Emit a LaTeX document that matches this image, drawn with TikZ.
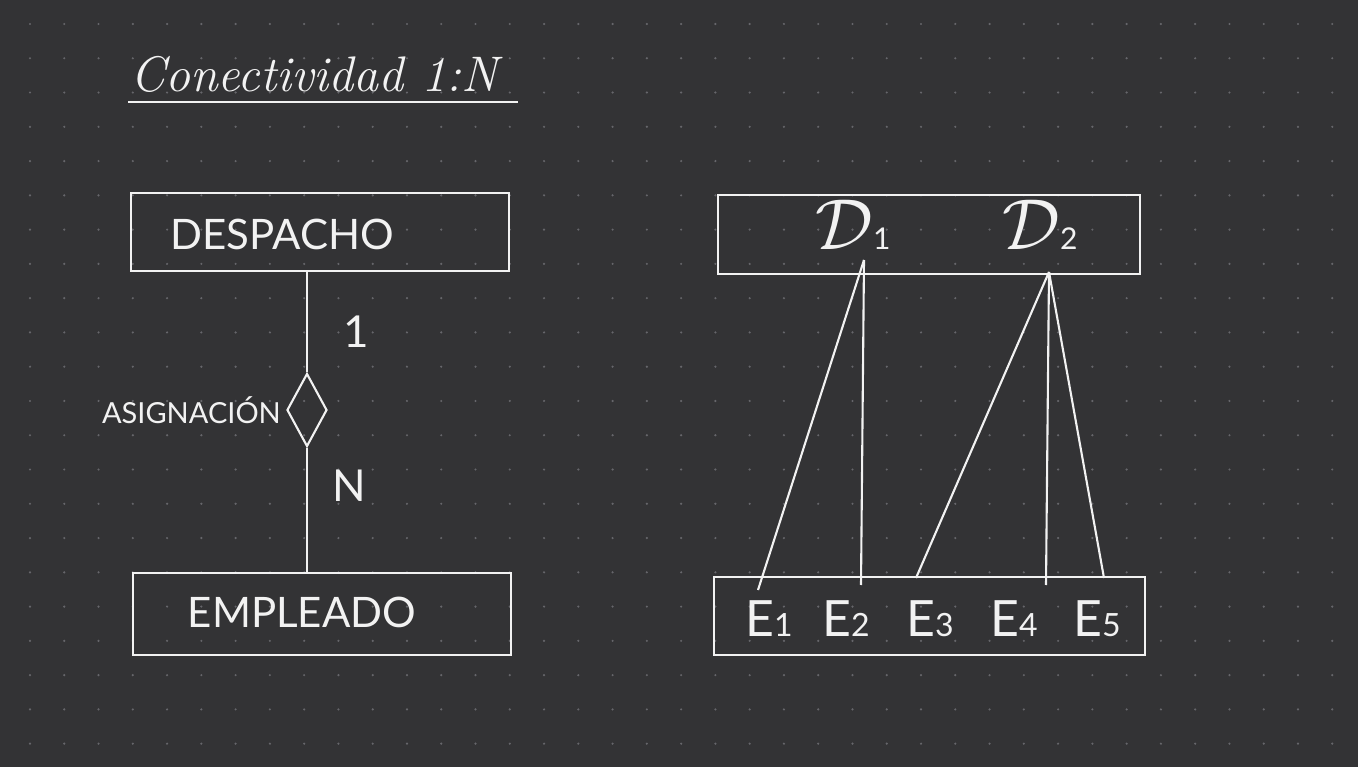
\documentclass[tikz,border=0pt]{standalone}
\usepackage{fontspec}
\setsansfont{Lato}
\usetikzlibrary{shapes.geometric}
\definecolor{bg}{HTML}{333335}
\definecolor{dotc}{HTML}{66666B}
\definecolor{ink}{HTML}{F2F2F2}
\newcommand{\bigD}{\scalebox{2.9}{$\mathcal{D}$}}
\begin{document}
\begin{tikzpicture}[x=1pt,y=-1pt,
  entbox/.style={draw=ink, line width=2.1pt, inner sep=0pt},
  lbl/.style={text=ink, inner sep=0pt, font=\sffamily\fontsize{42}{42}\selectfont},
  elbl/.style={text=ink, inner sep=0pt, anchor=base, font=\sffamily\fontsize{50}{50}\selectfont},
  small/.style={text=ink, inner sep=0pt, font=\sffamily\fontsize{29}{29}\selectfont},
  conn/.style={draw=ink, line width=2.1pt},
  ttl/.style={text=ink, inner sep=0pt, font=\itshape\fontsize{50}{50}\selectfont}]
\fill[bg] (0,0) rectangle (1358,767);
\useasboundingbox (0,0) rectangle (1358,767);
\foreach \i in {0,...,38}
  \foreach \j in {0,...,21}
    \fill[dotc] ({30+34.27*\i},{24+34.27*\j}) circle (1.2);
% title
\node[ttl, anchor=base west] (title) at (130,92) {Conectividad 1:N};
\coordinate (ul1) at (128,102);
\coordinate (ul2) at (518,102);
\draw[conn, line width=1.6pt] (ul1) -- (ul2);
% left diagram
\node[entbox, minimum width=378pt, minimum height=78pt] (desp) at (320,232) {};
\node[lbl] (desptxt) at (282,234) {DESPACHO};
\node[entbox, minimum width=378pt, minimum height=82pt] (emp) at (322,614) {};
\node[lbl] (emptxt) at (302,612) {EMPLEADO};
\node[draw=ink, line width=2.1pt, diamond, inner sep=0pt, minimum width=40pt, minimum height=73pt] (dia) at (307,410) {};
\draw[conn] (dia.north) -- (dia.north |- desp.south);
\draw[conn] (dia.south) -- (dia.south |- emp.north);
\node[small, anchor=east] (asig) at (281,410) {ASIGNACIÓN};
\node[lbl, font=\sffamily\fontsize{44}{44}\selectfont] (one) at (356,332) {1};
\node[lbl, font=\sffamily\fontsize{44}{44}\selectfont] (nn) at (349,486) {N};
% right diagram
\node[entbox, minimum width=422pt, minimum height=79pt] (dbox) at (929,234.5) {};
\node[entbox, minimum width=431pt, minimum height=78pt] (ebox) at (929.5,616) {};
\node[lbl, anchor=base] (d1) at (853,250) {\bigD\fontsize{30}{30}\selectfont 1};
\node[lbl, anchor=base] (d2) at (1040,250) {\bigD\fontsize{30}{30}\selectfont 2};
\node[elbl] (e1) at (769,636) {E\fontsize{32}{32}\selectfont 1};
\node[elbl] (e2) at (846,636) {E\fontsize{32}{32}\selectfont 2};
\node[elbl] (e3) at (930,636) {E\fontsize{32}{32}\selectfont 3};
\node[elbl] (e4) at (1014,636) {E\fontsize{32}{32}\selectfont 4};
\node[elbl] (e5) at (1097,636) {E\fontsize{32}{32}\selectfont 5};
\coordinate (p1) at (864,260);
\coordinate (p2) at (1049,272);
\coordinate (q1) at (758,590);
\coordinate (q2) at (861,585);
\coordinate (q3) at (916,578);
\coordinate (q4) at (1046,585);
\coordinate (q5) at (1104,578);
\draw[conn] (p1) -- (q1);
\draw[conn] (p1) -- (q2);
\draw[conn] (p2) -- (q3);
\draw[conn] (p2) -- (q4);
\draw[conn] (p2) -- (q5);
\end{tikzpicture}
\end{document}
